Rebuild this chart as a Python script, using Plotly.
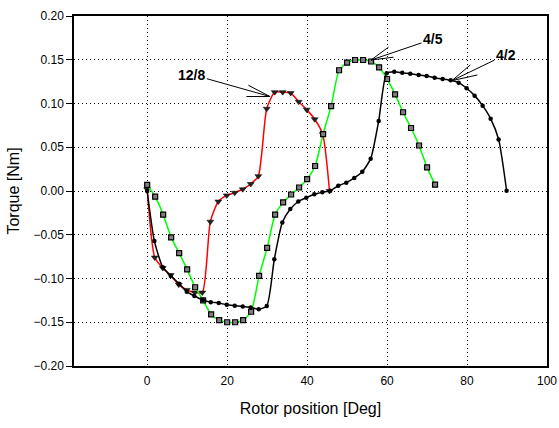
import plotly.graph_objects as go

# Rotor position [deg] and torque [Nm] for three motor configurations
pos_12_8 = [0, 1.9, 3.9, 5.9, 7.9, 9.9, 11.9, 13.8, 15.8, 17.8, 19.9, 21.9, 23.9, 25.9,
            27.8, 29.9, 31.9, 33.9, 35.9, 37.9, 39.9, 41.9, 43.9, 45.6]
torque_12_8 = [0.002, -0.076, -0.088, -0.096, -0.107, -0.113, -0.116, -0.116, -0.035, -0.012,
               -0.005, -0.002, 0.002, 0.008, 0.017, 0.094, 0.113, 0.113, 0.112, 0.102,
               0.093, 0.082, 0.065, 0.000]

pos_4_5 = [0, 2, 4, 6, 8, 10, 12, 14, 16, 18, 20, 22, 24, 26, 28, 30, 32, 34, 36,
           38, 40, 42, 44, 46, 48, 50, 52, 54, 56, 58, 60, 62, 64, 66, 68, 70, 72]
torque_4_5 = [0.007, -0.0065, -0.027, -0.053, -0.071, -0.0895, -0.110, -0.125, -0.141,
              -0.1475, -0.150, -0.150, -0.1475, -0.138, -0.097, -0.065, -0.027, -0.013,
              -0.004, 0.004, 0.0135, 0.0286, 0.065, 0.097, 0.138, 0.1467, 0.1497, 0.1497,
              0.148, 0.1414, 0.128, 0.1105, 0.090, 0.072, 0.052, 0.027, 0.0072]

pos_4_2 = [0, 1.8, 3.9, 5.9, 8.0, 9.9, 11.8, 13.9, 15.9, 17.9, 19.9, 21.9, 23.9, 25.9,
           27.9, 29.9, 31.8, 33.8, 35.8, 37.8, 39.8, 41.8, 43.8, 45.8, 47.8, 49.8, 51.8,
           53.8, 55.9, 57.9, 59.9, 61.8, 63.8, 65.8, 67.9, 69.9, 71.9, 73.9, 75.9, 77.9,
           79.9, 81.9, 83.9, 85.9, 87.9, 89.9]
torque_4_2 = [0.000, -0.057, -0.087, -0.097, -0.106, -0.115, -0.120, -0.1245, -0.127,
              -0.128, -0.130, -0.131, -0.132, -0.133, -0.135, -0.1315, -0.078, -0.036,
              -0.0206, -0.012, -0.0076, -0.0038, -0.0015, 0.0003, 0.006, 0.0095, 0.015,
              0.022, 0.037, 0.080, 0.1345, 0.1364, 0.135, 0.134, 0.1326, 0.1314, 0.1295,
              0.128, 0.1265, 0.1238, 0.1174, 0.109, 0.0975, 0.0827, 0.059, 0.0003]

FONT = "Liberation Sans, Arial, sans-serif"

fig = go.Figure()

fig.add_trace(go.Scatter(
    x=pos_12_8, y=torque_12_8, mode="lines+markers", name="12/8",
    line=dict(color="#ff0000", width=1.5, shape="spline", smoothing=0.6),
    marker=dict(symbol="triangle-down", size=6, color="#222222",
                line=dict(color="#000000", width=0.5)),
))
fig.add_trace(go.Scatter(
    x=pos_4_5, y=torque_4_5, mode="lines+markers", name="4/5",
    line=dict(color="#00ff00", width=1.5, shape="spline", smoothing=0.6),
    marker=dict(symbol="square", size=5, color="#808080",
                line=dict(color="#000000", width=1.2)),
))
fig.add_trace(go.Scatter(
    x=pos_4_2, y=torque_4_2, mode="lines+markers", name="4/2",
    line=dict(color="#000000", width=1.5, shape="spline", smoothing=0.6),
    marker=dict(symbol="circle", size=4.5, color="#000000"),
))

# Labels with open-headed pointer lines: (tip x, tip y, text, text offset, barb offsets)
labels = [
    (30.7, 0.108, "12/8", (-78, -22), [(-23, -12), (-25, 0)]),
    (56.0, 0.1497, "4/5", (62, -21), [(19, -14), (24, -3)]),
    (76.2, 0.1261, "4/2", (54, -26), [(20, -17), (27, -6)]),
]
for tx, ty, text, (ax, ay), barbs in labels:
    fig.add_annotation(x=tx, y=ty, text=f"<b>{text}</b>", ax=ax, ay=ay,
                       showarrow=True, arrowhead=0, arrowwidth=1, arrowcolor="#000000",
                       standoff=0, font=dict(family=FONT, size=14, color="#000000"))
    for bx, by in barbs:
        fig.add_annotation(x=tx, y=ty, text="", ax=bx, ay=by,
                           showarrow=True, arrowhead=0, arrowwidth=1,
                           arrowcolor="#000000", standoff=0)

axis_common = dict(
    showline=True, linecolor="#000000", linewidth=1.5, mirror=True,
    showgrid=True, gridcolor="#000000", griddash="1px,3px", gridwidth=1,
    zeroline=False, automargin=False,
    tickfont=dict(family=FONT, size=12, color="#000000"),
)

fig.update_xaxes(
    range=[-18.3, 100], tickmode="array", tickvals=[0, 20, 40, 60, 80, 100],
    ticks="outside", ticklen=3, tickcolor="rgba(0,0,0,0)",
    title=dict(text="Rotor position [Deg]", standoff=16,
               font=dict(family=FONT, size=16, color="#000000")),
    **axis_common,
)
fig.update_yaxes(
    range=[-0.2, 0.2], tickmode="array",
    tickvals=[-0.2, -0.15, -0.1, -0.05, 0, 0.05, 0.1, 0.15, 0.2],
    tickformat=".2f", ticks="outside", ticklen=6, tickcolor="#000000",
    title=dict(text="Torque [Nm]", standoff=10,
               font=dict(family=FONT, size=16, color="#000000")),
    **axis_common,
)

fig.update_layout(
    width=559, height=428,
    margin=dict(l=74, r=12, t=16, b=62),
    plot_bgcolor="#ffffff", paper_bgcolor="#ffffff",
    showlegend=False,
    font=dict(family=FONT),
)

fig.write_html("out.html")
